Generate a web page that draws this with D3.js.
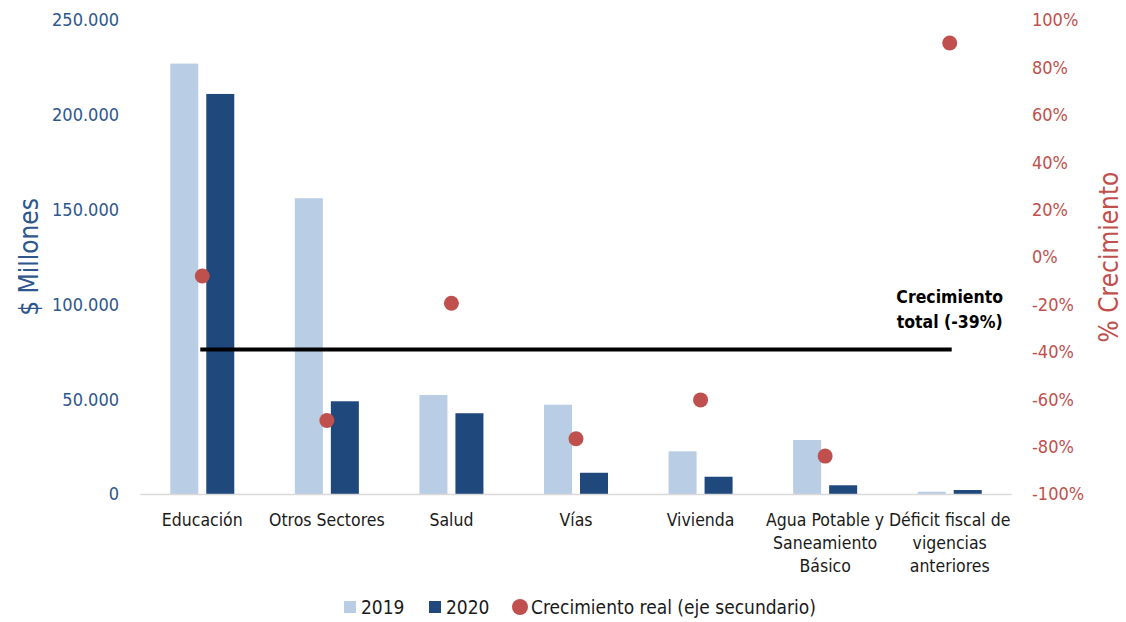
<!DOCTYPE html>
<html>
<head>
<meta charset="utf-8">
<title>Inversión por sector</title>
<script src="https://d3js.org/d3.v7.min.js"></script>
<style>
  body { margin: 0; background: #fff; }
  svg text { font-family: "Liberation Sans Narrow", "Arial Narrow", "DejaVu Sans Condensed", sans-serif; }
</style>
</head>
<body>
<div id="chart"></div>
<script>
// data
var categories = ["Educación", "Otros Sectores", "Salud", "Vías", "Vivienda",
                  "Agua Potable y|Saneamiento|Básico", "Déficit fiscal de|vigencias|anteriores"];
var values2019 = [227000, 156000, 52200, 47100, 22500, 28500, 1200];
var values2020 = [211000, 48900, 42600, 11200, 9100, 4600, 2100];
var growth = [-8, -69, -19.5, -76.7, -60.3, -84, 90.3];
var totalGrowth = -39;
var leftTicks = [0, 50000, 100000, 150000, 200000, 250000];
var rightTicks = d3.range(-100, 101, 20);

var width = 1126, height = 622;
var marg = {top: 20, right: 114, bottom: 128, left: 140};
var innerW = width - marg.left - marg.right,
    innerH = height - marg.top - marg.bottom;

var colLight = "#b9cde5", colDark = "#1f497d", colRed = "#c0504d";
var colLeftTxt = "#2e578c";

var svg = d3.select("#chart").append("svg")
    .attr("width", width)
    .attr("height", height)
  .append("g")
    .attr("transform", "translate(" + marg.left + "," + marg.top + ")");

var x = d3.scaleBand().domain(categories).range([0, innerW]);
var y = d3.scaleLinear().domain([0, 250000]).range([innerH, 0]);
var y2 = d3.scaleLinear().domain([-100, 100]).range([innerH, 0]);

var barW = 28, gap = 8;

// left axis labels
var fmt = function(d) { return d === 0 ? "0" : d3.format(",")(d).replace(/,/g, "."); };
svg.append("g").selectAll("text")
  .data(leftTicks)
  .join("text")
    .attr("x", -21)
    .attr("y", function(d) { return y(d); })
    .attr("dy", "0.35em")
    .attr("text-anchor", "end")
    .attr("fill", colLeftTxt)
    .style("font-size", "18px")
    .text(fmt);

// right axis labels
svg.append("g").selectAll("text")
  .data(rightTicks)
  .join("text")
    .attr("x", innerW + 20)
    .attr("y", function(d) { return y2(d); })
    .attr("dy", "0.35em")
    .attr("text-anchor", "start")
    .attr("fill", colRed)
    .style("font-size", "18px")
    .text(function(d) { return d + "%"; });

// axis titles
svg.append("text")
  .attr("transform", "translate(" + (-102) + "," + (innerH / 2) + ") rotate(-90)")
  .attr("text-anchor", "middle")
  .attr("fill", colLeftTxt)
  .style("font-size", "26px")
  .text("$ Millones");

svg.append("text")
  .attr("transform", "translate(" + (innerW + 106) + "," + (innerH / 2) + ") rotate(-90)")
  .attr("text-anchor", "middle")
  .attr("fill", colRed)
  .style("font-size", "26px")
  .text("% Crecimiento");

// bars
svg.append("g").selectAll("rect")
  .data(values2019)
  .join("rect")
    .attr("x", function(d, i) { return x(categories[i]) + x.bandwidth() / 2 - gap / 2 - barW; })
    .attr("y", function(d) { return y(d); })
    .attr("width", barW)
    .attr("height", function(d) { return innerH - y(d); })
    .attr("fill", colLight);

svg.append("g").selectAll("rect")
  .data(values2020)
  .join("rect")
    .attr("x", function(d, i) { return x(categories[i]) + x.bandwidth() / 2 + gap / 2; })
    .attr("y", function(d) { return y(d); })
    .attr("width", barW)
    .attr("height", function(d) { return innerH - y(d); })
    .attr("fill", colDark);

// baseline
svg.append("line")
  .attr("x1", 0).attr("x2", innerW)
  .attr("y1", innerH + 0.5).attr("y2", innerH + 0.5)
  .attr("stroke", "#d9d9d9")
  .attr("stroke-width", 1.5);

// category labels
var catG = svg.append("g");
categories.forEach(function(c) {
  var t = catG.append("text")
    .attr("x", x(c) + x.bandwidth() / 2)
    .attr("y", innerH + 32)
    .attr("text-anchor", "middle")
    .attr("fill", "#1a1a1a")
    .style("font-size", "17.5px");
  c.split("|").forEach(function(line, k) {
    t.append("tspan")
      .attr("x", x(c) + x.bandwidth() / 2)
      .attr("dy", k === 0 ? 0 : 23)
      .text(line);
  });
});

// total growth line
var first = categories[0], last = categories[categories.length - 1];
svg.append("line")
  .attr("x1", x(first) + x.bandwidth() / 2 - 2)
  .attr("x2", x(last) + x.bandwidth() / 2 + 2)
  .attr("y1", y2(totalGrowth))
  .attr("y2", y2(totalGrowth))
  .attr("stroke", "#000")
  .attr("stroke-width", 4);

var ann = svg.append("text")
  .attr("text-anchor", "middle")
  .attr("fill", "#000")
  .style("font-size", "17.5px")
  .style("font-weight", "bold");
ann.append("tspan")
  .attr("x", x(last) + x.bandwidth() / 2)
  .attr("y", y2(totalGrowth) - 46)
  .text("Crecimiento");
ann.append("tspan")
  .attr("x", x(last) + x.bandwidth() / 2)
  .attr("dy", 25)
  .text("total (" + totalGrowth + "%)");

// growth dots
svg.append("g").selectAll("circle")
  .data(growth)
  .join("circle")
    .attr("cx", function(d, i) { return x(categories[i]) + x.bandwidth() / 2; })
    .attr("cy", function(d) { return y2(d); })
    .attr("r", 7.5)
    .attr("fill", colRed);

// legend
var leg = d3.select("svg").append("g").attr("transform", "translate(0,607)");
leg.append("rect").attr("x", 344).attr("y", -6).attr("width", 12).attr("height", 12).attr("fill", colLight);
leg.append("text").attr("x", 361).attr("y", 0).attr("dy", "0.35em").style("font-size", "19px").attr("fill", "#1a1a1a").text("2019");
leg.append("rect").attr("x", 429).attr("y", -6).attr("width", 12).attr("height", 12).attr("fill", colDark);
leg.append("text").attr("x", 446).attr("y", 0).attr("dy", "0.35em").style("font-size", "19px").attr("fill", "#1a1a1a").text("2020");
leg.append("circle").attr("cx", 520).attr("cy", 0).attr("r", 8).attr("fill", colRed);
leg.append("text").attr("x", 531).attr("y", 0).attr("dy", "0.35em").style("font-size", "19px").attr("fill", "#1a1a1a").text("Crecimiento real (eje secundario)");
</script>
</body>
</html>
